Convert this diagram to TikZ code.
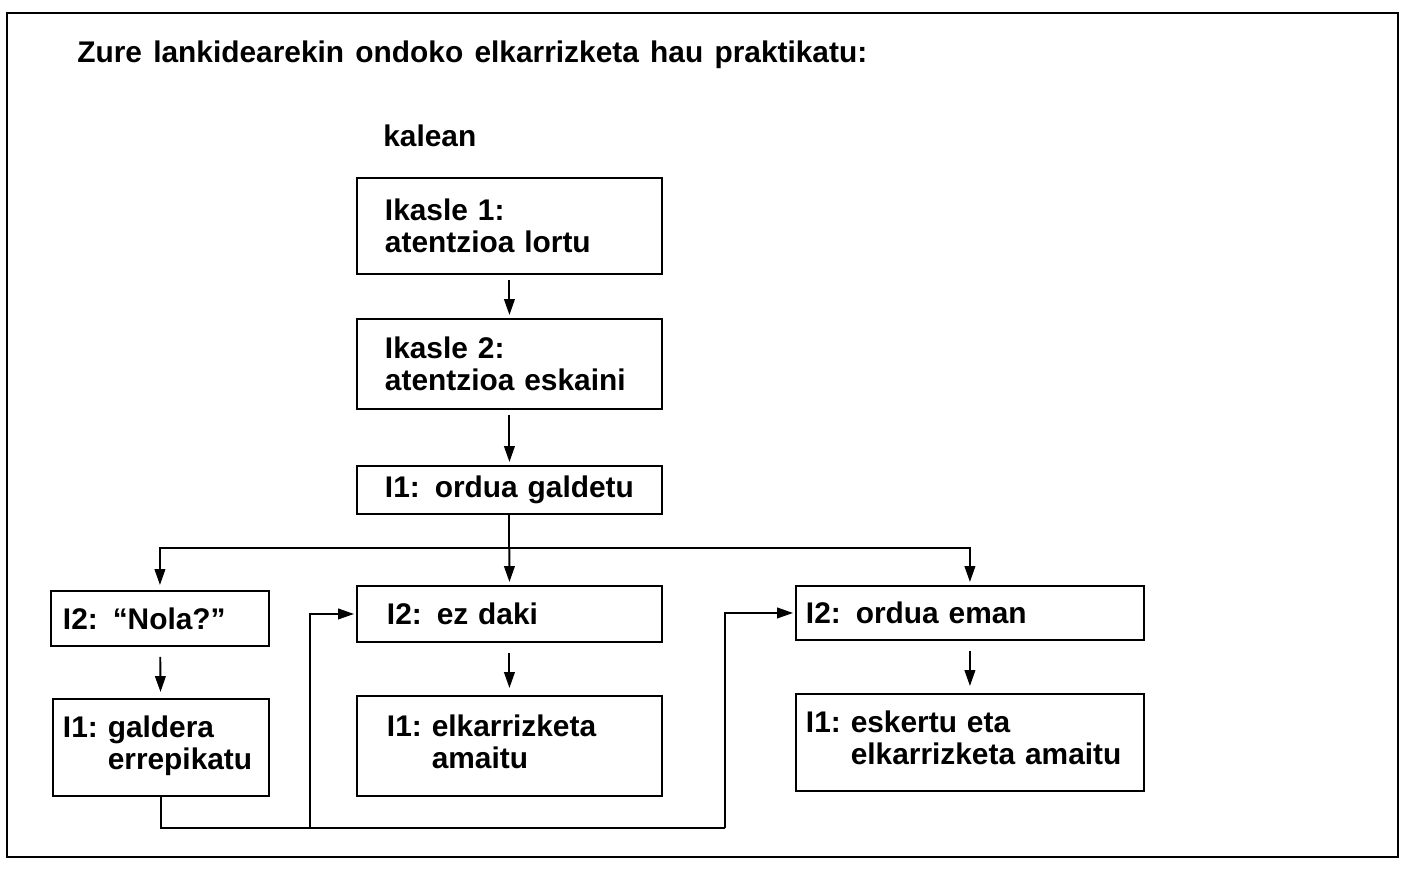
\documentclass[tikz,border=0pt]{standalone}
\usepackage{fontspec}
\setmainfont{Liberation Sans}
\usetikzlibrary{arrows.meta}

\begin{document}
\begin{tikzpicture}[x=0.02cm,y=-0.02cm,
  box/.style={draw,line width=1.1pt,anchor=north west,align=left,inner ysep=0pt,
    font=\bfseries\fontsize{17}{18}\selectfont},
  flow/.style={line width=1.1pt,-{Stealth[inset=0pt,length=9pt,width=6pt]}},
  link/.style={line width=1.1pt}]
  \useasboundingbox (0,0) rectangle (1407,870);
  \draw[line width=1.2pt] (7,13) rectangle (1398,857);
  % heading
  \node[anchor=base west,inner sep=0pt,font=\bfseries\fontsize{17}{18}\selectfont] (title) at (77,62)
    {\spaceskip=6.4pt\relax Zure lankidearekin ondoko elkarrizketa hau praktikatu:};
  \node[anchor=base west,inner sep=0pt,font=\bfseries\fontsize{17}{18}\selectfont] (place) at (383,146) {kalean};
  % boxes
  \node[box,text width=4.98cm,inner xsep=.56cm,minimum height=1.92cm] (b1) at (356,177)
    {Ikasle 1:\\atentzioa lortu};
  \node[box,text width=4.98cm,inner xsep=.56cm,minimum height=1.8cm] (b2) at (356,318)
    {Ikasle 2:\\atentzioa eskaini};
  \node[box,text width=4.98cm,inner xsep=.56cm,minimum height=.96cm] (b3) at (356,465)
    {I1: ordua galdetu};
  \node[box,text width=3.88cm,inner xsep=.24cm,minimum height=1.1cm] (b4) at (50,590)
    {I2: “Nola?”};
  \node[box,text width=4.9cm,inner xsep=.6cm,minimum height=1.12cm] (b5) at (356,585)
    {I2: ez daki};
  \node[box,text width=6.56cm,inner xsep=.2cm,minimum height=1.08cm] (b6) at (795,585)
    {I2: ordua eman};
  \node[box,text width=3.92cm,inner xsep=.2cm,minimum height=1.94cm] (b7) at (52,698)
    {\begin{tabular}{@{}l@{}l@{}}I1:\ \ & galdera\\ & errepikatu\end{tabular}};
  \node[box,text width=4.9cm,inner xsep=.6cm,minimum height=2cm] (b8) at (356,695)
    {\begin{tabular}{@{}l@{}l@{}}I1:\ \ & elkarrizketa\\ & amaitu\end{tabular}};
  \node[box,text width=6.56cm,inner xsep=.2cm,minimum height=1.94cm] (b9) at (795,693)
    {\begin{tabular}{@{}l@{}l@{}}I1:\ \ & eskertu eta\\ & elkarrizketa amaitu\end{tabular}};
  % connectors
  \coordinate (fork) at (b3.south |- 0,548);
  \coordinate (retA) at (310,828);
  \coordinate (retB) at (725,828);
  \draw[flow,shorten <=.1cm,shorten >=.06cm] (b1) -- (b2);
  \draw[flow,shorten <=.1cm,shorten >=.06cm] (b2) -- (b3);
  \draw[link] (b3) -- (fork);
  \draw[flow,shorten >=.1cm] (fork) -| (b4);
  \draw[flow,shorten >=.06cm] (fork) -- (b5);
  \draw[flow,shorten >=.06cm] (fork) -| (b6);
  \draw[flow,shorten <=.2cm,shorten >=.12cm] (b4) -- (b7);
  \draw[flow,shorten <=.2cm,shorten >=.14cm] (b5) -- (b8);
  \draw[flow,shorten <=.2cm,shorten >=.14cm] (b6) -- (b9);
  \draw[link] (b7) |- (retB);
  \draw[flow,shorten >=.04cm] (retA) |- (b5);
  \draw[flow,shorten >=.04cm] (retB) |- (b6);
\end{tikzpicture}
\end{document}
